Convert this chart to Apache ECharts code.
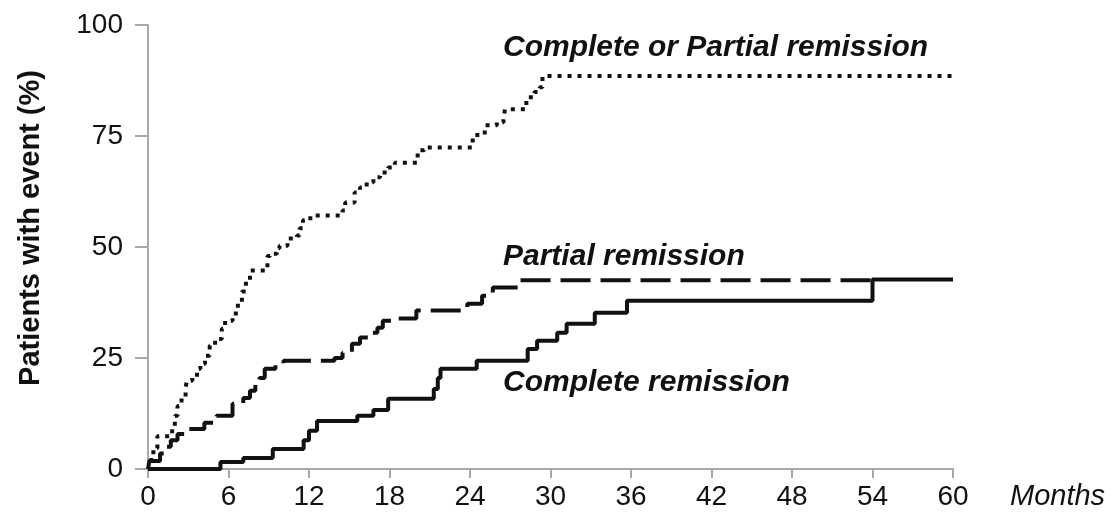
<!DOCTYPE html>
<html>
<head>
<meta charset="utf-8">
<script src="https://cdn.jsdelivr.net/npm/echarts@6/dist/echarts.min.js"></script>
<style>
html,body{margin:0;padding:0;background:#fff;}
#chart{width:1117px;height:520px;}
</style>
</head>
<body>
<div id="chart"></div>
<script>
// Kaplan-Meier style cumulative curves: [month, percent]
const completeRemission = [
  [0,0],[5.4,1.6],[7.1,2.5],[9.3,4.5],[11.6,6.5],[12.0,8.6],[12.6,10.8],
  [15.6,12.0],[16.8,13.3],[17.9,15.8],[21.3,18.0],[21.6,20.5],[21.8,22.6],
  [24.5,24.4],[28.3,27.0],[29.0,28.9],[30.5,30.7],[31.2,32.7],[33.3,35.2],
  [35.7,37.9],[54.0,42.7],[60,42.7]
];
const partialRemission = [
  [0,0],[0.1,1.8],[0.9,3.5],[1.3,5.0],[1.7,6.5],[2.2,7.9],[2.9,9.0],[4.2,10.4],
  [5.1,12.0],[6.3,14.7],[7.1,16.0],[7.6,17.6],[8.0,19.4],[8.3,20.5],[8.7,22.6],
  [9.5,23.7],[10.1,24.4],[13.9,25.0],[14.5,26.2],[15.2,28.2],[15.8,29.6],
  [16.5,30.7],[17.1,31.8],[17.5,33.4],[18.6,33.9],[20.0,35.7],[23.8,37.2],
  [24.9,39.0],[25.7,40.9],[27.6,42.5],[54.0,42.5]
];
const completeOrPartial = [
  [0,0],[0.15,2.0],[0.4,4.7],[0.7,7.4],[1.8,9.3],[2.0,12.0],[2.2,14.2],[2.5,16.0],
  [2.8,18.3],[2.9,19.9],[3.3,20.5],[3.65,22.6],[3.9,23.7],[4.25,25.5],[4.6,27.8],
  [5.0,29.3],[5.5,31.6],[5.75,33.4],[6.3,35.0],[6.7,37.5],[7.0,40.0],[7.3,42.5],
  [7.6,44.7],[8.9,48.0],[9.1,48.5],[9.6,49.7],[9.8,50.3],[10.4,51.9],[11.1,52.6],
  [11.3,54.2],[11.55,56.0],[12.1,57.1],[14.5,58.2],[14.7,60.0],[15.4,62.3],
  [15.8,63.4],[16.3,64.6],[16.8,65.7],[17.3,66.8],[17.9,67.9],[18.4,69.0],
  [20.1,71.8],[20.6,72.4],[24.2,75.2],[25.1,77.4],[26.0,78.1],[26.5,78.6],
  [26.6,81.0],[28.2,83.7],[28.8,84.9],[29.2,86.0],[29.4,88.5],[60,88.5]
];
const xTicks = [0,6,12,18,24,30,36,42,48,54,60];
const yTicks = [0,25,50,75,100];
const labels = {
  cp: 'Complete or Partial remission',
  pr: 'Partial remission',
  cr: 'Complete remission',
  xName: 'Months',
  yName: 'Patients with event (%)'
};

const chart = echarts.init(document.getElementById('chart'), null, {renderer:'canvas'});
const FONT = 'Liberation Sans, Arial, Helvetica, sans-serif';
const axisGray = '#a8a8a8';
chart.setOption({
  animation: false,
  backgroundColor: '#fff',
  grid: {left: 148, right: 164, top: 25, bottom: 51, containLabel: false},
  xAxis: {
    type: 'value', min: 0, max: 60, interval: 6,
    axisLine: {show: true, lineStyle: {color: axisGray, width: 2}},
    axisTick: {show: true, length: 9, lineStyle: {color: axisGray, width: 2}},
    axisLabel: {color: '#111', fontSize: 28, fontFamily: FONT, margin: 14},
    splitLine: {show: false}
  },
  yAxis: {
    type: 'value', min: 0, max: 100, interval: 25,
    axisLine: {show: true, lineStyle: {color: axisGray, width: 2}},
    axisTick: {show: true, length: 13, lineStyle: {color: axisGray, width: 2}},
    axisLabel: {color: '#111', fontSize: 28, fontFamily: FONT, margin: 25},
    splitLine: {show: false}
  },
  series: [
    {
      name: labels.cp, type: 'line', step: 'end', data: completeOrPartial,
      symbol: 'none', lineStyle: {color: '#111', width: 4, type: [4, 6], cap: 'butt'}
    },
    {
      name: labels.pr, type: 'line', step: 'end', data: partialRemission,
      symbol: 'none', lineStyle: {color: '#111', width: 4, type: [30, 10], cap: 'butt'}
    },
    {
      name: labels.cr, type: 'line', step: 'end', data: completeRemission,
      symbol: 'none', lineStyle: {color: '#111', width: 4, type: 'solid'}
    }
  ],
  graphic: [
    {type: 'text', x: 503, y: 48, style: {text: labels.cp, font: 'italic bold 30px ' + FONT, fill: '#111', verticalAlign: 'middle'}},
    {type: 'text', x: 503, y: 257, style: {text: labels.pr, font: 'italic bold 30px ' + FONT, fill: '#111', verticalAlign: 'middle'}},
    {type: 'text', x: 503, y: 383, style: {text: labels.cr, font: 'italic bold 30px ' + FONT, fill: '#111', verticalAlign: 'middle'}},
    {type: 'text', x: 1010, y: 497, style: {text: labels.xName, font: 'italic 29px ' + FONT, fill: '#111', verticalAlign: 'middle'}},
    {type: 'text', x: 31, y: 228, rotation: Math.PI/2, style: {text: labels.yName, font: 'bold 29px ' + FONT, fill: '#111', align: 'center', verticalAlign: 'middle'}}
  ]
});
</script>
</body>
</html>
